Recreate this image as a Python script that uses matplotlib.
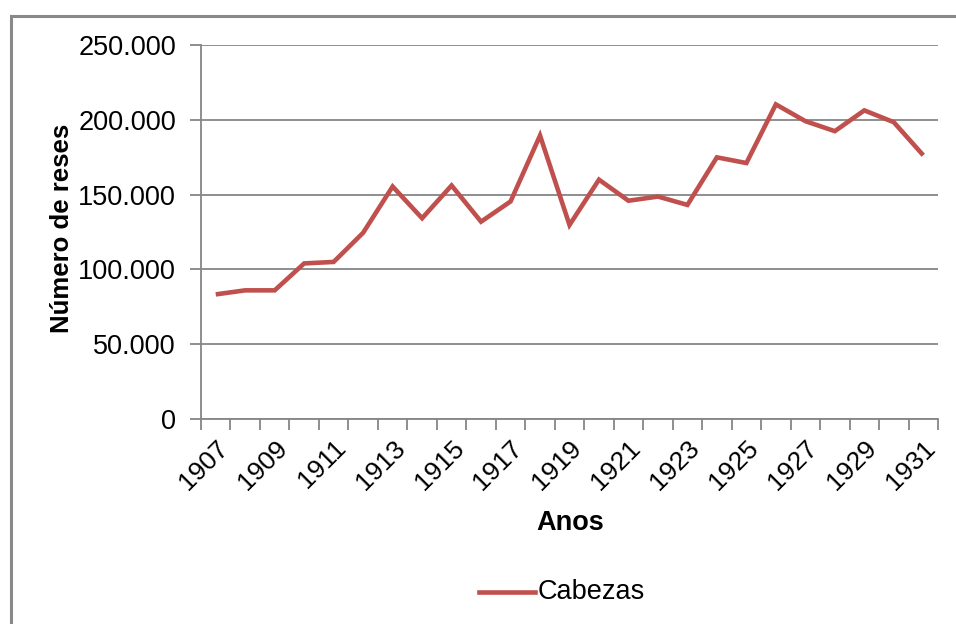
import matplotlib
matplotlib.use("Agg")
import matplotlib.pyplot as plt
from matplotlib.ticker import FuncFormatter, FixedLocator
from matplotlib.patches import Rectangle
from matplotlib.lines import Line2D

plt.rcParams['font.family'] = ['Liberation Sans', 'DejaVu Sans']

years = list(range(1907, 1932))
cabezas = [83300, 86000, 86000, 104000, 105000, 124500, 155400, 134200, 156100,
           131900, 145400, 189500, 129700, 160000, 145900, 148700, 143100, 174900,
           171100, 210300, 199100, 192400, 206300, 198400, 176300]
yticks = [0, 50000, 100000, 150000, 200000, 250000]
series_name = "Cabezas"
xlabel = "Anos"
ylabel = "Número de reses"

W, H = 956, 624
fig = plt.figure(figsize=(W / 100, H / 100), dpi=100)
ax = fig.add_axes([201 / W, (H - 419) / H, (938 - 201) / W, (419 - 45) / H])

grey = '#868686'
red = '#C0504D'
x = list(range(len(years)))
line, = ax.plot(x, cabezas, color=red, lw=3.3, solid_joinstyle='miter', solid_capstyle='butt')

ax.set_xlim(-0.5, len(years) - 0.5)
ax.set_ylim(0, 250000)
ax.yaxis.set_major_locator(FixedLocator(yticks))
ax.yaxis.set_major_formatter(FuncFormatter(lambda v, p: f"{int(v):,}".replace(",", ".")))
ax.grid(axis='y', color=grey, lw=1.3)
ax.set_axisbelow(True)

ax.set_xticks(x[::2])
ax.set_xticklabels([str(y) for y in years[::2]], rotation=45, ha='right', va='top',
                   rotation_mode='anchor', fontsize=19)
ax.set_xticks([i - 0.5 for i in range(len(years) + 1)], minor=True)
ax.tick_params(axis='x', which='major', length=0, pad=12)
ax.tick_params(axis='x', which='minor', length=8, width=1.3, color=grey, direction='out')
ax.tick_params(axis='y', which='major', length=8, width=1.3, color=grey, direction='out',
               labelsize=19.5, pad=10)

for s in ['top', 'right']:
    ax.spines[s].set_visible(False)
for s in ['left', 'bottom']:
    ax.spines[s].set_color(grey)
    ax.spines[s].set_linewidth(1.3)

fig.text(62 / W, 1 - 228 / H, ylabel, rotation=90, ha='center', va='center',
         fontsize=18.5, fontweight='bold')
fig.text(570 / W, 1 - 523 / H, xlabel, ha='center', va='center',
         fontsize=19.5, fontweight='bold')

fig.add_artist(Line2D([479 / W, 535 / W], [1 - 592 / H, 1 - 592 / H], color=red, lw=3.3,
                      transform=fig.transFigure))
fig.text(538 / W, 1 - 592 / H, series_name, ha='left', va='center', fontsize=19.5)

fig.add_artist(Rectangle((11 / W, -0.1), 1.2, 1 - 16 / H + 0.1, transform=fig.transFigure,
                         fill=False, edgecolor='#898989', lw=2.2))

fig.savefig("out.png", dpi=100)
